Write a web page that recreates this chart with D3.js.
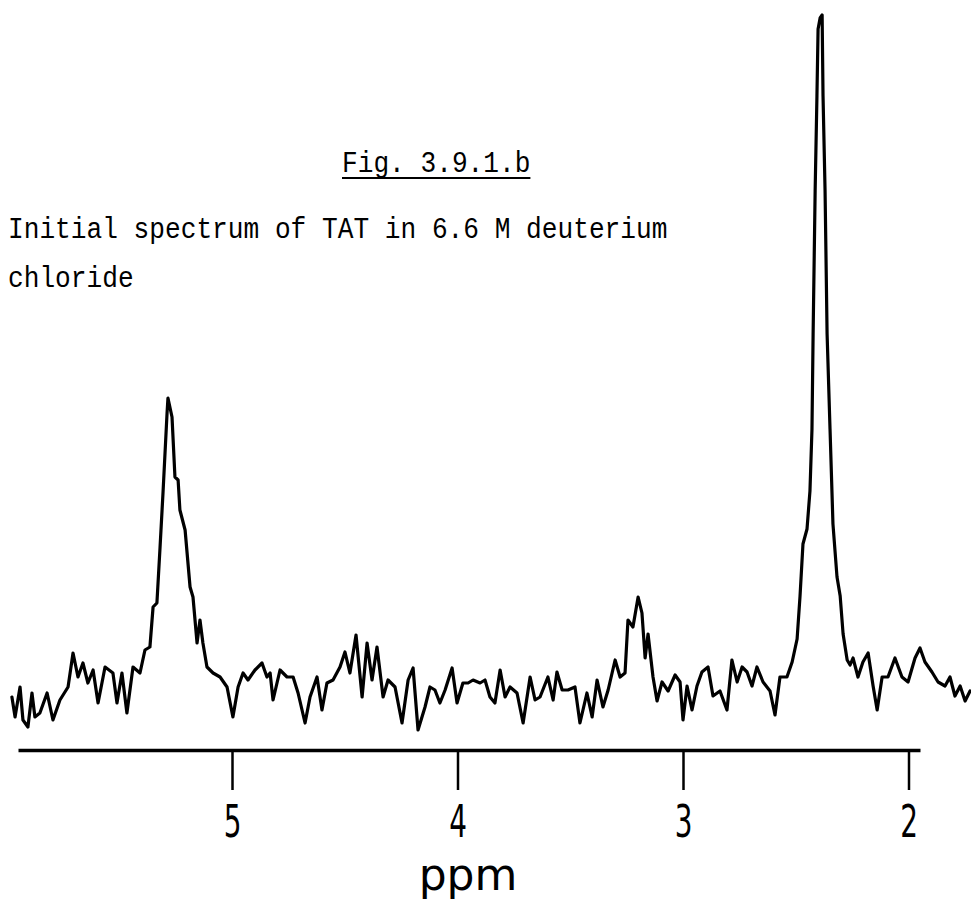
<!DOCTYPE html>
<html>
<head>
<meta charset="utf-8">
<script src="https://cdn.jsdelivr.net/npm/d3@7"></script>
<style>
  body { margin: 0; background: #fff; }
</style>
</head>
<body>
<div id="chart"></div>
<script>
// chemical shift (ppm) and trace height (arbitrary units)
const shifts = [
  5.976, 5.962, 5.940, 5.927, 5.905, 5.887, 5.874, 5.852, 5.820, 5.794,
  5.763, 5.727, 5.705, 5.683, 5.661, 5.639, 5.616, 5.594, 5.563, 5.528,
  5.510, 5.488, 5.466, 5.439, 5.408, 5.386, 5.364, 5.350, 5.333, 5.319,
  5.306, 5.288, 5.284, 5.266, 5.253, 5.239, 5.231, 5.208, 5.186, 5.173,
  5.155, 5.142, 5.129, 5.111, 5.084, 5.053, 5.022, 4.996, 4.973, 4.951,
  4.929, 4.898, 4.867, 4.845, 4.831, 4.818, 4.787, 4.756, 4.729, 4.707,
  4.676, 4.654, 4.623, 4.601, 4.579, 4.552, 4.521, 4.499, 4.477, 4.450,
  4.423, 4.401, 4.379, 4.357, 4.330, 4.308, 4.277, 4.246, 4.219, 4.197,
  4.175, 4.144, 4.122, 4.100, 4.078, 4.055, 4.024, 4.002, 3.976, 3.953,
  3.931, 3.900, 3.878, 3.856, 3.834, 3.811, 3.789, 3.767, 3.736, 3.709,
  3.678, 3.656, 3.634, 3.599, 3.576, 3.559, 3.536, 3.510, 3.479, 3.457,
  3.426, 3.403, 3.381, 3.355, 3.332, 3.301, 3.279, 3.257, 3.244, 3.222,
  3.199, 3.182, 3.168, 3.155, 3.133, 3.115, 3.093, 3.066, 3.035, 3.013,
  3.000, 2.982, 2.960, 2.938, 2.916, 2.889, 2.867, 2.836, 2.805, 2.783,
  2.760, 2.738, 2.716, 2.694, 2.672, 2.645, 2.614, 2.592, 2.570, 2.539,
  2.516, 2.494, 2.481, 2.468, 2.450, 2.437, 2.428, 2.423, 2.414, 2.406,
  2.401, 2.392, 2.383, 2.379, 2.370, 2.361, 2.348, 2.335, 2.317, 2.303,
  2.290, 2.272, 2.259, 2.246, 2.224, 2.202, 2.179, 2.157, 2.139, 2.117,
  2.091, 2.060, 2.029, 2.002, 1.971, 1.949, 1.927, 1.896, 1.869, 1.838,
  1.816, 1.794, 1.771, 1.749, 1.727
];
const signal = [
  -7, -27, 3, -30, -37, -3, -27, -23, -3, -30,
  -10, 3, 37, 13, 27, 7, 20, -13, 23, 17,
  -13, 17, -23, 23, 17, 40, 43, 83, 87, 143,
  197, 277, 292, 273, 213, 210, 180, 160, 103, 93,
  47, 70, 47, 23, 17, 13, 3, -27, 3, 17,
  10, 20, 27, 13, 17, -10, 20, 13, 13, -3,
  -33, -7, 13, -20, 7, 10, 23, 38, 17, 55,
  -7, 47, 10, 43, -7, 10, 3, -33, 10, 22,
  -40, -17, 3, 0, -13, 0, 22, -13, 7, 7,
  10, 7, 10, -7, -13, 20, -7, 3, -3, -33,
  13, -10, -7, 13, -10, 18, 0, 0, 3, -33,
  -3, -27, 10, -17, 0, 30, 13, 17, 70, 63,
  93, 77, 32, 56, 13, -11, 8, -1, 15, 8,
  -30, 4, -20, 4, 18, 23, -6, -1, -20, 30,
  8, 23, 18, 4, 23, 8, -1, -25, 13, 13,
  28, 51, 94, 146, 161, 199, 261, 356, 499, 594,
  661, 672, 675, 594, 499, 356, 261, 166, 113, 94,
  56, 30, 25, 32, 13, 28, 37, 4, -20, 13,
  13, 32, 13, 8, 32, 42, 28, 18, 8, 4,
  13, -6, 4, -11, -1
];
const tickValues = [5, 4, 3, 2];
const axisLabel = "ppm";
const figTitle = "Fig. 3.9.1.b";
const captionLines = ["Initial spectrum of TAT in 6.6 M deuterium", "chloride"];

const width = 971, height = 903;
const axisY = 750;
const pitch = 15.7; // typewriter character pitch

const svg = d3.select("#chart")
    .append("svg")
    .attr("width", width)
    .attr("height", height)
    .style("background", "#fff");

var x = d3.scaleLinear()
    .domain([5.949, 1.949])
    .range([18, 920]);
var y = d3.scaleLinear()
    .domain([0, 675])
    .range([690, 15]);

// the trace
const points = shifts.map((s, i) => [s, signal[i]]);
svg.append("path")
    .datum(points)
    .attr("fill", "none")
    .attr("stroke", "#000")
    .attr("stroke-width", 3.2)
    .attr("stroke-linejoin", "round")
    .attr("stroke-linecap", "round")
    .attr("d", d3.line()
        .x(d => x(d[0]))
        .y(d => y(d[1])));

// ppm axis
const axis = svg.append("g")
    .attr("transform", "translate(0," + axisY + ")")
    .call(d3.axisBottom(x)
        .tickValues(tickValues)
        .tickSize(40)
        .tickSizeOuter(0)
        .tickFormat(d3.format("d")));
axis.select(".domain")
    .attr("stroke", "#000")
    .attr("stroke-width", 3.5);
axis.selectAll(".tick line")
    .attr("stroke", "#000")
    .attr("stroke-width", 2.5);
axis.selectAll(".tick text")
    .attr("y", 87)
    .attr("dy", 0)
    .attr("transform", "scale(0.62,1)")
    .style("font-family", "DejaVu Sans, sans-serif")
    .style("font-size", "45px")
    .style("fill", "#000");

svg.append("text")
    .attr("x", 468)
    .attr("y", 890)
    .attr("text-anchor", "middle")
    .style("font-family", "DejaVu Sans, sans-serif")
    .style("font-size", "44px")
    .text(axisLabel);

// typed caption
svg.append("text")
    .attr("x", 342)
    .attr("y", 172)
    .attr("textLength", figTitle.length * pitch)
    .attr("lengthAdjust", "spacingAndGlyphs")
    .style("font-family", "Liberation Mono, monospace")
    .style("font-size", "30px")
    .text(figTitle);
svg.append("line")
    .attr("x1", 342)
    .attr("x2", 342 + figTitle.length * pitch)
    .attr("y1", 178)
    .attr("y2", 178)
    .attr("stroke", "#000")
    .attr("stroke-width", 2);

svg.selectAll(".caption")
    .data(captionLines)
    .enter()
    .append("text")
    .attr("class", "caption")
    .attr("x", 8)
    .attr("y", (d, i) => 238 + i * 49)
    .attr("textLength", d => d.length * pitch)
    .attr("lengthAdjust", "spacingAndGlyphs")
    .style("font-family", "Liberation Mono, monospace")
    .style("font-size", "30px")
    .text(d => d);
</script>
</body>
</html>
